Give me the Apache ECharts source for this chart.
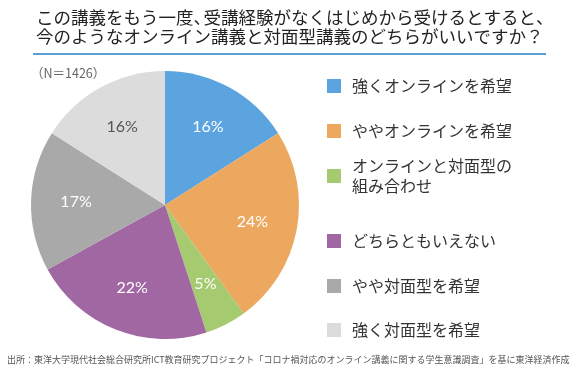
<!DOCTYPE html>
<html><head><meta charset="utf-8">
<script src="https://cdn.jsdelivr.net/npm/echarts@6/dist/echarts.min.js"></script>
<style>html,body{margin:0;padding:0;background:#fff}#c{width:570px;height:371px}</style>
</head><body><div id="c"></div>
<script>
// ---- data ----
const titleLines = ['この講義をもう一度、受講経験がなくはじめから受けるとすると、', '今のようなオンライン講義と対面型講義のどちらがいいですか？'];
const categories = ['強くオンラインを希望', 'ややオンラインを希望', 'オンラインと対面型の\n組み合わせ', 'どちらともいえない', 'やや対面型を希望', '強く対面型を希望'];
const shares = [16, 24, 5, 22, 17, 16];
const sampleNote = '（N＝1426）';
const sourceNote = '出所：東洋大学現代社会総合研究所ICT教育研究プロジェクト「コロナ禍対応のオンライン講義に関する学生意識調査」を基に東洋経済作成';

// ---- style ----
const colors = ['#5ba4e0', '#eda85f', '#a6ca70', '#a067a3', '#a9a9a9', '#dcdcdc'];
const labelColors = ['#ffffff', '#ffffff', '#ffffff', '#ffffff', '#ffffff', '#555555'];
const FONT = '"Noto Sans CJK JP", "Noto Sans", sans-serif';
const legendCenters = [86, 131, 176, 241, 286, 330];
const LH = 20;
const TFS = 17.5;

const chart = echarts.init(document.getElementById('c'), null, {renderer: 'canvas'});

// proportional (narrow) ideographic comma in the title, as in the original typesetting
const titleText = titleLines.map(l => l.replace(/、/g, '{p|、}')).join('\n');

const pieData = categories.map((name, i) => ({
  name, value: shares[i], itemStyle: {color: colors[i]}
}));
const labelData = categories.map((name, i) => ({
  name, value: shares[i],
  label: {color: labelColors[i]}
}));

const legends = categories.map((name, i) => {
  const multi = name.indexOf('\n') >= 0;
  return {
    orient: 'vertical', left: 327, top: legendCenters[i] - (multi ? LH * 1.5 : LH / 2),
    padding: 0, itemWidth: 14, itemHeight: 14, icon: 'rect', selectedMode: false,
    data: [{name, textStyle: multi ? {padding: [LH, 0, 0, 6]} : {padding: [0, 0, 0, 6]}}],
    textStyle: {fontFamily: FONT, fontSize: 16, lineHeight: LH, color: '#333'}
  };
});

chart.setOption({
  animation: false,
  backgroundColor: '#ffffff',
  title: {
    text: titleText, left: 36, top: 8, padding: 0,
    textStyle: {
      fontFamily: FONT, fontSize: TFS, fontWeight: 'normal', lineHeight: 19, color: '#222',
      rich: {p: {fontFamily: FONT, fontSize: TFS, lineHeight: 19, color: '#222', width: 10}}
    }
  },
  legend: legends,
  graphic: [
    {type: 'line', shape: {x1: 33, y1: 54, x2: 546, y2: 54}, style: {stroke: '#5a9fd4', lineWidth: 2}},
    {type: 'text', left: 31, top: 67, style: {text: sampleNote, fontFamily: FONT, fontSize: 12.5, fill: '#666'}},
    {type: 'text', left: 7, top: 355, style: {text: sourceNote, fontFamily: FONT, fontSize: 9, fill: '#555'}}
  ],
  series: [
    {
      type: 'pie', center: [165, 205], radius: [0, 134], startAngle: 90, clockwise: true,
      data: pieData, label: {show: false}, labelLine: {show: false}, silent: true
    },
    {
      type: 'pie', center: [165, 205], radius: [38, 134], startAngle: 90, clockwise: true,
      data: labelData, silent: true,
      itemStyle: {color: 'rgba(0,0,0,0)'},
      label: {show: true, position: 'inside', formatter: '{c}%', fontFamily: 'Lato, "Noto Sans", sans-serif', fontSize: 16},
      labelLine: {show: false}
    }
  ]
});
</script></body></html>
